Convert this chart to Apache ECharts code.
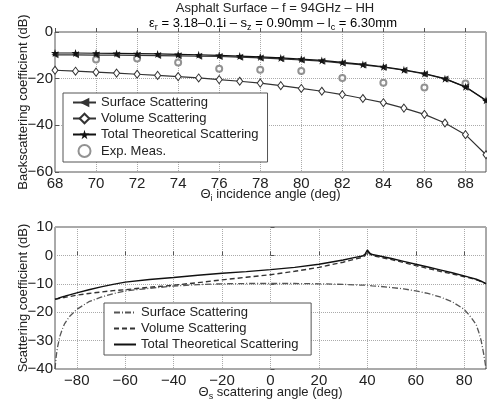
<!DOCTYPE html>
<html>
<head>
<meta charset="utf-8">
<script src="https://cdn.jsdelivr.net/npm/echarts@6/dist/echarts.min.js"></script>
<style>
html, body { margin: 0; padding: 0; background: #fff; }
#main { width: 487px; height: 405px; }
</style>
</head>
<body>
<div id="main"></div>
<script>
// 上图：后向散射系数 vs 入射角
var incAngle  = [68, 69, 70, 71, 72, 73, 74, 75, 76, 77, 78, 79, 80, 81, 82, 83, 84, 85, 86, 87, 88, 89];
var surfBack  = [-9.8, -9.8, -9.9, -9.9, -10.0, -10.1, -10.2, -10.4, -10.5, -10.8, -11.1, -11.5, -12.0, -12.5, -13.3, -14.1, -15.1, -16.4, -18.0, -20.1, -23.6, -29.4];
var volBack   = [-16.4, -16.8, -17.2, -17.6, -18.1, -18.6, -19.1, -19.7, -20.4, -21.1, -21.9, -23.0, -24.2, -25.4, -26.8, -28.5, -30.3, -32.6, -35.3, -39.0, -44.0, -52.6];
var totalBack = [-9.0, -9.0, -9.1, -9.2, -9.3, -9.4, -9.6, -9.8, -10.0, -10.3, -10.7, -11.1, -11.6, -12.2, -13.0, -13.9, -14.9, -16.2, -17.8, -20.0, -23.5, -29.3];
var expAngle  = [70, 72, 74, 76, 78, 80, 82, 84, 86, 88];
var expBack   = [-11.8, -11.4, -13.1, -15.7, -16.2, -16.7, -19.7, -21.8, -23.8, -22.1];

// 下图：双站散射系数 vs 散射角
var scatAngle = [-89, -88.5, -88, -87, -86, -85, -83, -80, -75, -70, -65, -60, -50, -40, -30, -20, -10, 0, 10, 20, 30, 35, 38, 39, 40, 41, 42, 45, 50, 55, 60, 65, 70, 75, 80, 83, 85, 86, 87, 88, 88.5, 89];
var surfBi    = [-40, -35.5, -32.5, -28.5, -26, -24, -21.5, -19, -16.3, -14.7, -13.5, -12.5, -11.6, -10.8, -10.3, -10.0, -9.9, -9.9, -9.9, -10.0, -10.2, -10.4, -10.5, -10.5, -10.6, -10.6, -10.7, -10.9, -11.3, -11.8, -12.5, -13.4, -14.6, -16.3, -19.0, -22.0, -24.5, -27.0, -30.0, -34.5, -37.0, -40];
var volBi     = [-15.5, -15.4, -15.3, -15.1, -14.9, -14.8, -14.5, -14.0, -13.4, -12.9, -12.4, -12.1, -11.2, -10.5, -9.6, -8.6, -7.7, -6.8, -5.6, -4.2, -2.4, -1.3, -0.7, -0.1, 1.5, 0.5, -0.1, -0.6, -1.5, -2.5, -3.6, -4.6, -5.6, -6.5, -7.5, -8.1, -8.6, -8.9, -9.3, -9.6, -9.8, -10.0];
var totalBi   = [-15.4, -15.3, -15.2, -14.9, -14.6, -14.4, -13.9, -13.2, -12.1, -11.1, -10.2, -9.4, -8.5, -7.8, -7.0, -6.3, -5.7, -5.0, -4.2, -3.1, -1.6, -0.7, -0.2, 0.4, 1.9, 0.8, 0.3, -0.2, -1.1, -2.1, -3.1, -4.1, -5.1, -6.1, -7.2, -7.9, -8.4, -8.7, -9.1, -9.5, -9.7, -9.9];
var scatTicks = [-80, -60, -40, -20, 0, 20, 40, 60, 80];

var font = 'Liberation Sans, Arial, Helvetica, sans-serif';
var starPath = 'path://M50,0 L61,35 L98,35 L68,57 L79,91 L50,70 L21,91 L32,57 L2,35 L39,35 Z';
var noMarker = { color: 'rgba(0,0,0,0)', borderWidth: 0 };

function pairs(xs, ys) {
    return xs.map(function (x, i) { return [x, ys[i]]; });
}
function minus(v) {
    return String(v).replace('-', '\u2212');
}

var subRich = {
    n: { fontSize: 13, color: '#222', fontFamily: font },
    s: { fontSize: 9, color: '#222', fontFamily: font, padding: [9, 0, 0, 0] }
};

var myChart = echarts.init(document.getElementById('main'));

var option = {
    animation: false,
    backgroundColor: '#fff',
    textStyle: { fontFamily: font, color: '#222' },
    graphic: [
        {
            type: 'text', x: 275, y: 8,
            style: { text: 'Asphalt Surface \u2013 f = 94GHz \u2013 HH', font: '13px ' + font, fill: '#222', align: 'center', verticalAlign: 'middle' }
        },
        {
            type: 'text', x: 273, y: 23,
            style: {
                text: '{n|\u03b5}{s|r}{n| = 3.18\u20130.1i \u2013 s}{s|z}{n| = 0.90mm \u2013 l}{s|c}{n| = 6.30mm}',
                rich: subRich, align: 'center', verticalAlign: 'middle'
            }
        }
    ],
    grid: [
        { left: 55, top: 32, width: 431, height: 140, show: true, borderColor: '#555', borderWidth: 1, outerBoundsMode: 'none' },
        { left: 55, top: 227, width: 431, height: 142, show: true, borderColor: '#555', borderWidth: 1, outerBoundsMode: 'none' }
    ],
    xAxis: [
        {
            gridIndex: 0, type: 'value', min: 68, max: 89, interval: 2,
            axisLine: { show: false },
            axisTick: { inside: true, length: 4, lineStyle: { color: '#555' } },
            axisLabel: { fontSize: 15, color: '#222', margin: 4, showMaxLabel: false },
            splitLine: { lineStyle: { type: 'dotted', color: '#aaa' } },
            name: '{n|\u0398}{s|i}{n| incidence angle (deg)}',
            nameLocation: 'middle', nameGap: 13, nameMoveOverlap: false,
            nameTextStyle: { rich: subRich }
        },
        {
            gridIndex: 1, type: 'value', min: -89, max: 89,
            axisLine: { show: false },
            axisTick: { inside: true, length: 4, lineStyle: { color: '#555' }, customValues: scatTicks },
            axisLabel: { fontSize: 15, color: '#222', margin: 4, customValues: scatTicks, formatter: minus },
            splitLine: { lineStyle: { type: 'dotted', color: '#aaa' } },
            name: '{n|\u0398}{s|s}{n| scattering angle (deg)}',
            nameLocation: 'middle', nameGap: 14, nameMoveOverlap: false,
            nameTextStyle: { rich: subRich }
        }
    ],
    yAxis: [
        {
            gridIndex: 0, type: 'value', min: -60, max: 0, interval: 20,
            axisLine: { show: false },
            axisTick: { inside: true, length: 4, lineStyle: { color: '#555' } },
            axisLabel: { fontSize: 15, color: '#222', margin: 2, formatter: minus },
            splitLine: { lineStyle: { type: 'dotted', color: '#aaa' } },
            name: 'Backscattering coefficient (dB)',
            nameLocation: 'middle', nameGap: 25, nameMoveOverlap: false,
            nameTextStyle: { fontSize: 13, color: '#222' }
        },
        {
            gridIndex: 1, type: 'value', min: -40, max: 10, interval: 10,
            axisLine: { show: false },
            axisTick: { inside: true, length: 4, lineStyle: { color: '#555' } },
            axisLabel: { fontSize: 15, color: '#222', margin: 2, formatter: minus },
            splitLine: { lineStyle: { type: 'dotted', color: '#aaa' } },
            name: 'Scattering coefficient (dB)',
            nameLocation: 'middle', nameGap: 25, nameMoveOverlap: false,
            nameTextStyle: { fontSize: 13, color: '#222' }
        }
    ],
    legend: [
        {
            orient: 'vertical', left: 63, top: 93,
            data: ['Surface Scattering', 'Volume Scattering', 'Total Theoretical Scattering', 'Exp. Meas.'],
            itemWidth: 23, itemHeight: 12, itemGap: 3,
            padding: [3, 9, 4, 9],
            borderColor: '#555', borderWidth: 1, backgroundColor: '#fff',
            textStyle: { fontSize: 13, color: '#222' }
        },
        {
            orient: 'vertical', left: 104, top: 303,
            data: ['Surface Scattering ', 'Volume Scattering ', 'Total Theoretical Scattering '],
            itemWidth: 22, itemHeight: 12, itemGap: 3,
            padding: [3, 9, 4, 9],
            borderColor: '#555', borderWidth: 1, backgroundColor: '#fff',
            textStyle: { fontSize: 13, color: '#222' }
        }
    ],
    series: [
        {
            name: 'Surface Scattering', type: 'line', xAxisIndex: 0, yAxisIndex: 0,
            data: pairs(incAngle, surfBack),
            symbol: 'triangle', symbolRotate: 90, symbolSize: 7,
            lineStyle: { color: '#333', width: 1.2 },
            itemStyle: { color: '#333' }
        },
        {
            name: 'Volume Scattering', type: 'line', xAxisIndex: 0, yAxisIndex: 0,
            data: pairs(incAngle, volBack),
            symbol: 'diamond', symbolSize: [6, 8],
            lineStyle: { color: '#333', width: 1.2 },
            itemStyle: { color: '#fff', borderColor: '#333', borderWidth: 1 }
        },
        {
            name: 'Total Theoretical Scattering', type: 'line', xAxisIndex: 0, yAxisIndex: 0,
            data: pairs(incAngle, totalBack),
            symbol: starPath, symbolSize: 8,
            lineStyle: { color: '#111', width: 1.2 },
            itemStyle: { color: '#111' }
        },
        {
            name: 'Exp. Meas.', type: 'scatter', xAxisIndex: 0, yAxisIndex: 0,
            data: pairs(expAngle, expBack),
            symbol: 'emptyCircle', symbolSize: 6,
            itemStyle: { color: '#777', borderWidth: 1 }
        },
        {
            name: 'Surface Scattering ', type: 'line', xAxisIndex: 1, yAxisIndex: 1,
            data: pairs(scatAngle, surfBi), symbol: 'none',
            lineStyle: { color: '#555', width: 1.3, type: [6, 2, 1, 2] },
            itemStyle: noMarker
        },
        {
            name: 'Volume Scattering ', type: 'line', xAxisIndex: 1, yAxisIndex: 1,
            data: pairs(scatAngle, volBi), symbol: 'none',
            lineStyle: { color: '#333', width: 1.4, type: [5, 3] },
            itemStyle: noMarker
        },
        {
            name: 'Total Theoretical Scattering ', type: 'line', xAxisIndex: 1, yAxisIndex: 1,
            data: pairs(scatAngle, totalBi), symbol: 'none',
            lineStyle: { color: '#111', width: 1.4 },
            itemStyle: noMarker
        }
    ]
};

myChart.setOption(option);
</script>
</body>
</html>
